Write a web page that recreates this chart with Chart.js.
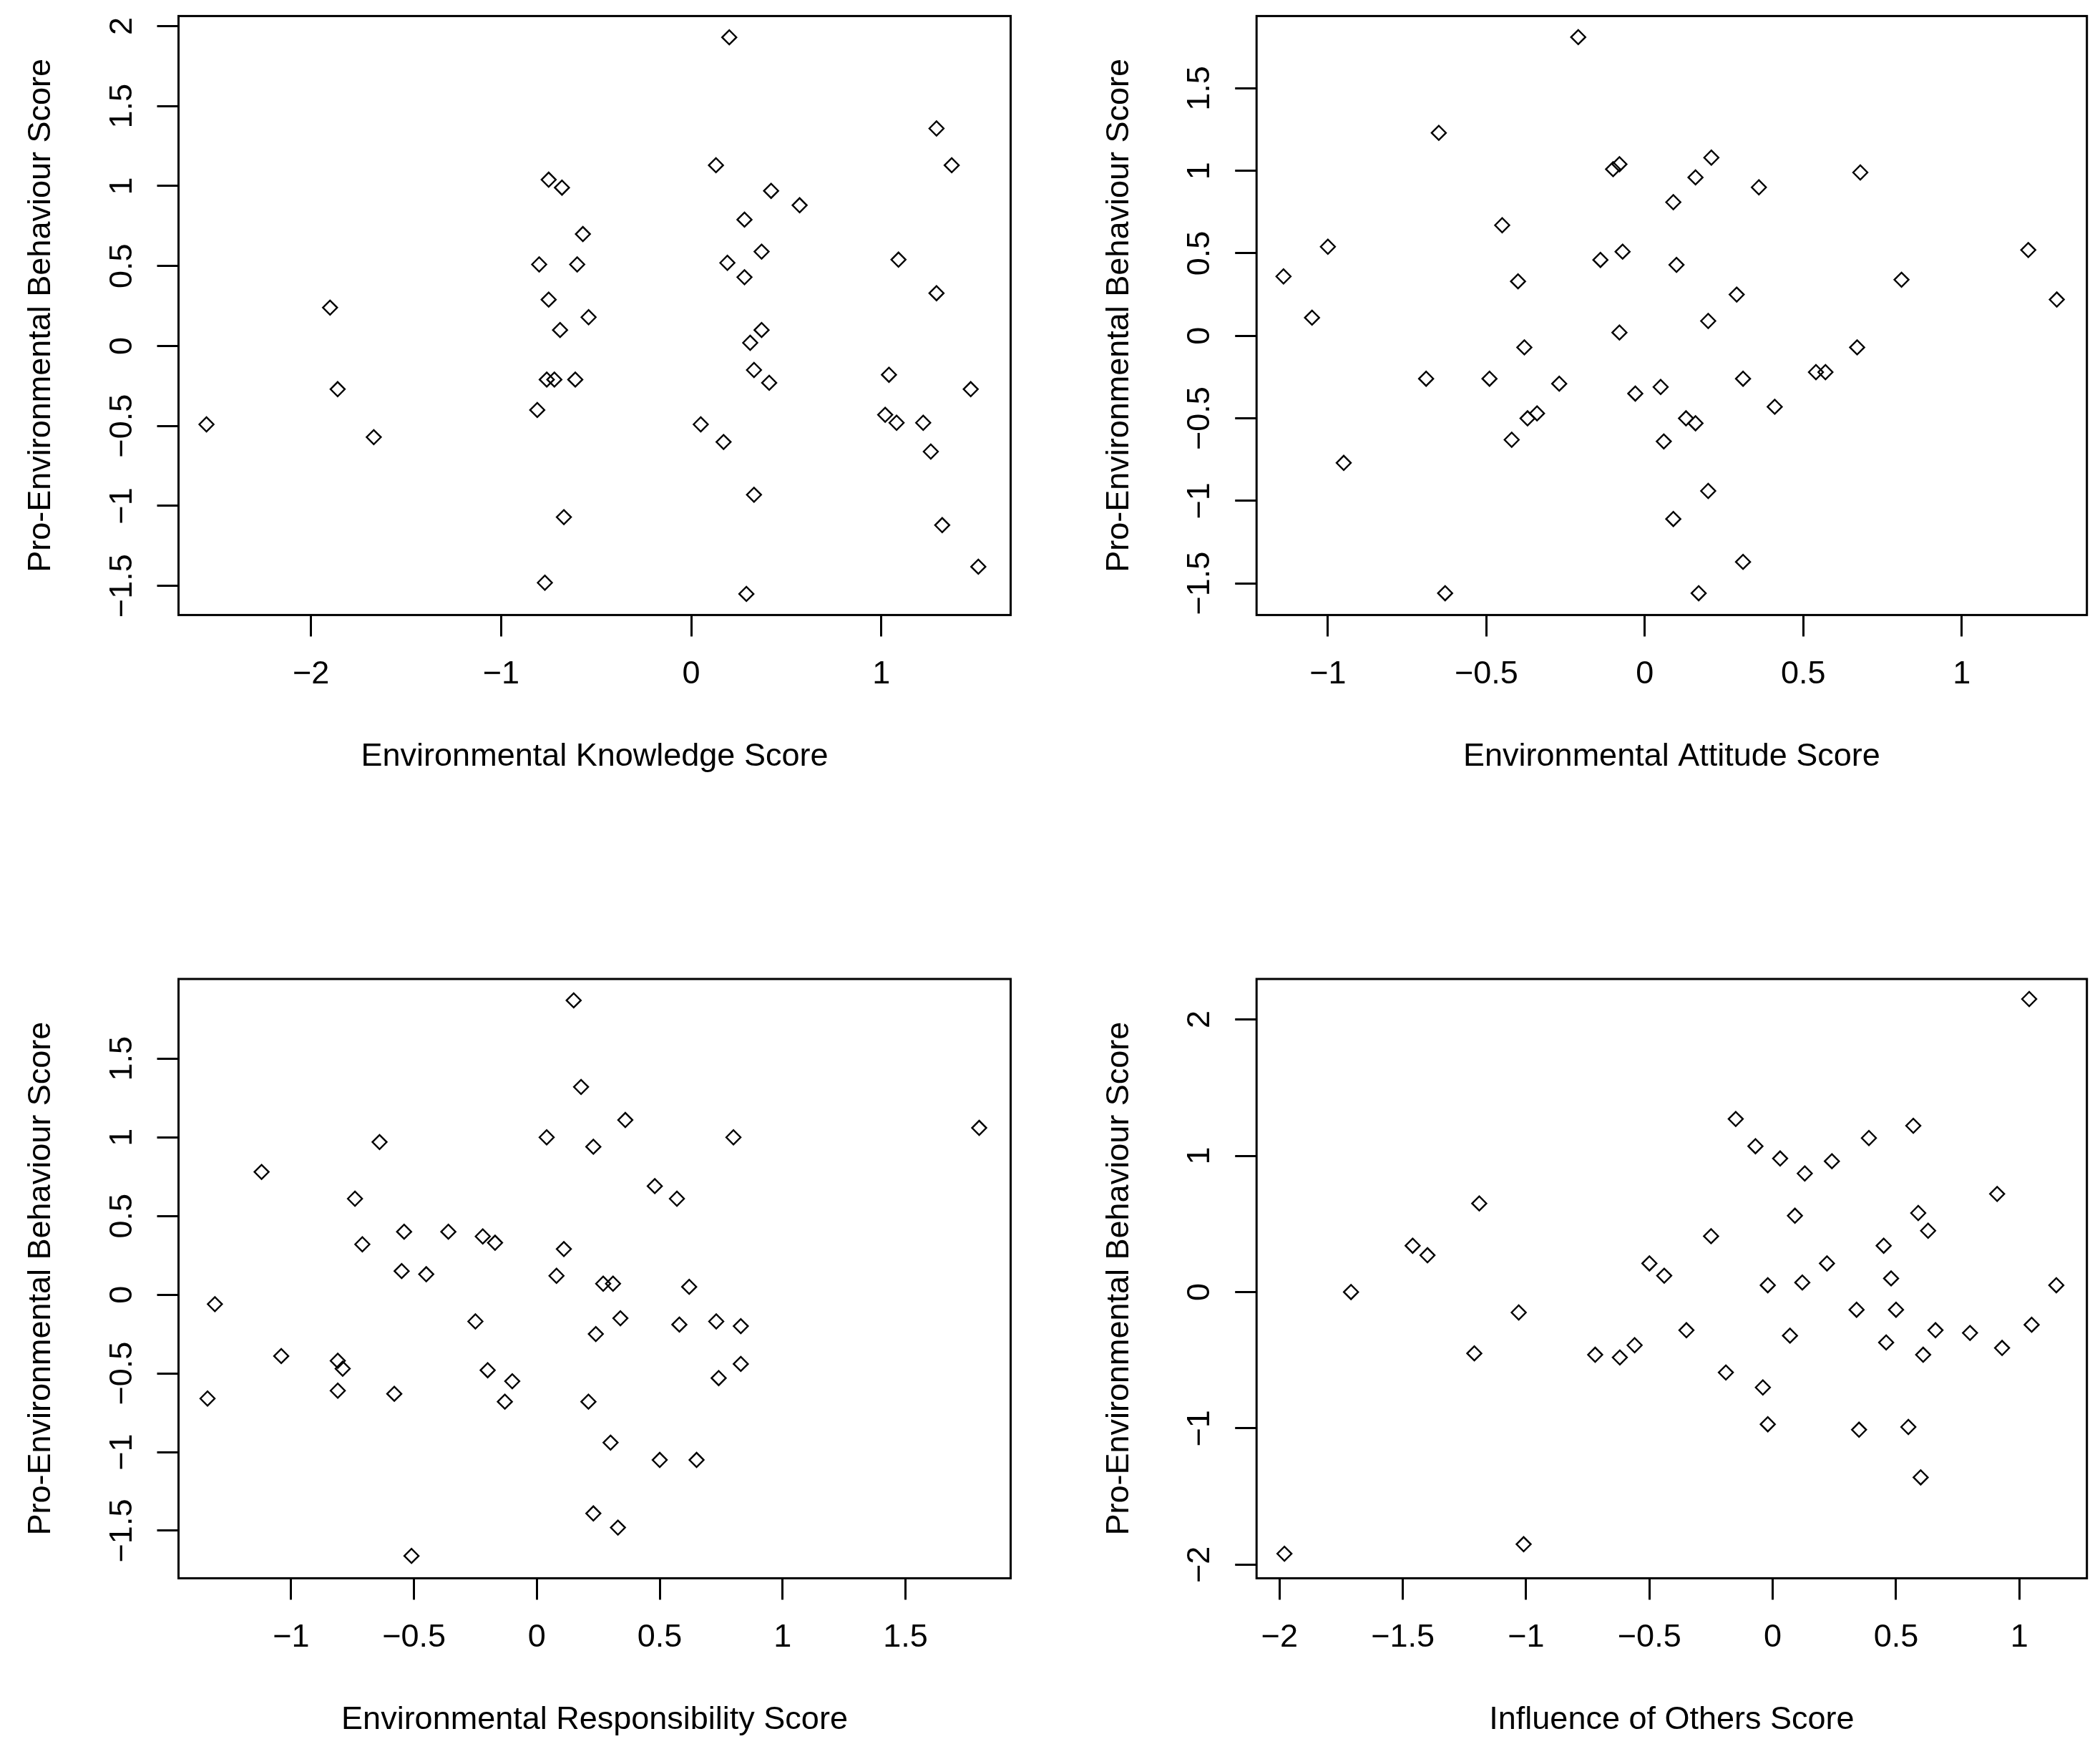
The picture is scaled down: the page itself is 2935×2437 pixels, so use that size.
<!DOCTYPE html>
<html>
<head>
<meta charset="utf-8">
<script src="https://cdn.jsdelivr.net/npm/chart.js@4.4.1/dist/chart.umd.min.js"></script>
<style>
html, body { margin: 0; padding: 0; background: #ffffff; }
body { width: 2935px; height: 2437px; position: relative; overflow: hidden; }
canvas { position: absolute; }
</style>
</head>
<body>
<canvas id="c1"></canvas>
<canvas id="c2"></canvas>
<canvas id="c3"></canvas>
<canvas id="c4"></canvas>
<script>
// ---------------- DATA ----------------
const behaviourTitle = 'Pro-Environmental Behaviour Score';

const knowledgeTitle = 'Environmental Knowledge Score';
const knowledgeX = [-2.55, -1.90, -1.86, -1.67, -0.75, -0.68, -0.80, -0.60, -0.57, -0.75, -0.54, -0.69, -0.76, -0.72, -0.61, -0.81, -0.67, -0.77, 0.20, 0.13, 0.42, 0.57, 0.28, 0.19, 0.37, 0.28, 0.37, 0.31, 0.33, 0.41, 0.05, 0.17, 0.33, 0.29, 1.29, 1.37, 1.09, 1.29, 1.04, 1.47, 1.02, 1.08, 1.22, 1.26, 1.32, 1.51];
const knowledgeY = [-0.49, 0.24, -0.27, -0.57, 1.04, 0.99, 0.51, 0.51, 0.70, 0.29, 0.18, 0.10, -0.21, -0.21, -0.21, -0.40, -1.07, -1.48, 1.93, 1.13, 0.97, 0.88, 0.79, 0.52, 0.59, 0.43, 0.10, 0.02, -0.15, -0.23, -0.49, -0.60, -0.93, -1.55, 1.36, 1.13, 0.54, 0.33, -0.18, -0.27, -0.43, -0.48, -0.48, -0.66, -1.12, -1.38];
const knowledgeXTicks = [-2, -1, 0, 1];
const knowledgeYTicks = [-1.5, -1, -0.5, 0, 0.5, 1, 1.5, 2];

const attitudeTitle = 'Environmental Attitude Score';
const attitudeX = [-0.21, -0.65, -1.14, -1.00, -1.05, -0.95, -0.45, -0.40, -0.38, -0.69, -0.49, -0.27, -0.37, -0.34, -0.42, -0.63, -0.10, -0.08, -0.14, -0.07, -0.08, -0.03, 0.09, 0.16, 0.21, 0.10, 0.36, 0.29, 0.20, 0.05, 0.06, 0.13, 0.16, 0.31, 0.41, 0.20, 0.09, 0.31, 0.17, 0.68, 0.67, 0.54, 0.57, 0.81, 1.21, 1.30];
const attitudeY = [1.81, 1.23, 0.36, 0.54, 0.11, -0.77, 0.67, 0.33, -0.07, -0.26, -0.26, -0.29, -0.50, -0.47, -0.63, -1.56, 1.01, 1.04, 0.46, 0.51, 0.02, -0.35, 0.81, 0.96, 1.08, 0.43, 0.90, 0.25, 0.09, -0.31, -0.64, -0.50, -0.53, -0.26, -0.43, -0.94, -1.11, -1.37, -1.56, 0.99, -0.07, -0.22, -0.22, 0.34, 0.52, 0.22];
const attitudeXTicks = [-1, -0.5, 0, 0.5, 1];
const attitudeYTicks = [-1.5, -1, -0.5, 0, 0.5, 1, 1.5];

const responsibilityTitle = 'Environmental Responsibility Score';
const responsibilityX = [0.15, 0.18, 0.36, 0.04, 0.23, 0.80, 1.80, 0.48, 0.57, 0.11, 0.08, 0.27, 0.31, 0.62, 0.34, 0.24, 0.58, 0.73, 0.83, 0.83, 0.74, 0.21, 0.30, 0.50, 0.65, 0.23, 0.33, -0.64, -1.12, -0.74, -0.71, -0.54, -0.36, -0.22, -0.17, -0.55, -0.45, -1.31, -0.25, -1.04, -0.81, -0.79, -0.81, -0.58, -1.34, -0.20, -0.10, -0.13, -0.51];
const responsibilityY = [1.87, 1.32, 1.11, 1.00, 0.94, 1.00, 1.06, 0.69, 0.61, 0.29, 0.12, 0.07, 0.07, 0.05, -0.15, -0.25, -0.19, -0.17, -0.20, -0.44, -0.53, -0.68, -0.94, -1.05, -1.05, -1.39, -1.48, 0.97, 0.78, 0.61, 0.32, 0.40, 0.40, 0.37, 0.33, 0.15, 0.13, -0.06, -0.17, -0.39, -0.42, -0.47, -0.61, -0.63, -0.66, -0.48, -0.55, -0.68, -1.66];
const responsibilityXTicks = [-1, -0.5, 0, 0.5, 1, 1.5];
const responsibilityYTicks = [-1.5, -1, -0.5, 0, 0.5, 1, 1.5];

const othersTitle = 'Influence of Others Score';
const othersX = [-1.98, -1.71, -1.46, -1.40, -1.19, -1.21, -1.03, -1.01, -0.72, -0.62, -0.56, -0.50, -0.44, -0.35, -0.25, -0.19, -0.15, -0.07, 0.03, 0.13, 0.24, 0.09, -0.02, 0.12, 0.22, 0.07, -0.04, -0.02, 0.39, 0.57, 0.59, 0.63, 0.45, 0.48, 0.34, 0.50, 0.66, 0.46, 0.61, 0.35, 0.55, 0.60, 0.80, 0.91, 0.93, 1.05, 1.04, 1.15];
const othersY = [-1.92, 0.00, 0.34, 0.27, 0.65, -0.45, -0.15, -1.85, -0.46, -0.48, -0.39, 0.21, 0.12, -0.28, 0.41, -0.59, 1.27, 1.07, 0.98, 0.87, 0.96, 0.56, 0.05, 0.07, 0.21, -0.32, -0.70, -0.97, 1.13, 1.22, 0.58, 0.45, 0.34, 0.10, -0.13, -0.13, -0.28, -0.37, -0.46, -1.01, -0.99, -1.36, -0.30, 0.72, -0.41, -0.24, 2.15, 0.05];
const othersXTicks = [-2, -1.5, -1, -0.5, 0, 0.5, 1];
const othersYTicks = [-2, -1, 0, 1, 2];

// ---------------- LAYOUT / STYLE ----------------
const FONT_FAMILY = '"Liberation Sans", Arial, Helvetica, sans-serif';
const FONT_SIZE = 45;
const TICK_LEN = 30;
const X_AXIS_H = 229;
const X_LABEL_PAD = 26.6;
const Y_LABEL_OFFSET = 78.3;
const Y_TITLE_PAD = 31;
const X_TITLE_PAD = 3.4;

function fmt(v) {
  const a = Math.abs(v);
  return (v < 0 ? '\u2212' : '') + String(a);
}

const boxPlugin = {
  id: 'rbox',
  afterDraw(chart) {
    const a = chart.chartArea;
    const ctx = chart.ctx;
    ctx.save();
    ctx.strokeStyle = '#000';
    ctx.lineWidth = 3;
    ctx.strokeRect(a.left, a.top, a.right - a.left, a.bottom - a.top);
    ctx.restore();
  }
};

function zeroPad(s) { s.paddingLeft = 0; s.paddingRight = 0; s.paddingTop = 0; s.paddingBottom = 0; }

function makeChart(id, pos, box, xs, ys, xTicks, yTicks, xRange, yRange, xTitle) {
  const canvas = document.getElementById(id);
  canvas.width = pos.width;
  canvas.height = pos.height;
  canvas.style.left = pos.left + 'px';
  canvas.style.top = pos.top + 'px';
  canvas.style.width = pos.width + 'px';
  canvas.style.height = pos.height + 'px';
  const ctx = canvas.getContext('2d');
  ctx.font = 'normal ' + FONT_SIZE + 'px ' + FONT_FAMILY;
  const widest = Math.max(...yTicks.map(v => ctx.measureText(fmt(v)).width));
  const yTickPad = Math.max(0, Y_LABEL_OFFSET - TICK_LEN - widest / 2);
  const font = { family: FONT_FAMILY, size: FONT_SIZE, lineHeight: 1.2 };
  const points = xs.map((x, i) => ({ x: x, y: ys[i] }));
  const grid = { display: true, drawOnChartArea: false, drawTicks: true, tickLength: TICK_LEN,
                 color: '#000', tickColor: '#000', lineWidth: 3, tickWidth: 3 };
  return new Chart(ctx, {
    type: 'scatter',
    data: { datasets: [{
      data: points,
      pointStyle: 'rectRot',
      pointRadius: 10,
      pointHoverRadius: 10,
      pointBorderColor: '#000',
      pointBackgroundColor: 'rgba(0,0,0,0)',
      pointBorderWidth: 2.4,
      borderColor: '#000',
      backgroundColor: 'rgba(0,0,0,0)'
    }]},
    options: {
      responsive: false,
      maintainAspectRatio: false,
      devicePixelRatio: 1,
      animation: false,
      events: [],
      layout: {
        autoPadding: false,
        padding: { left: 0, top: box.t, right: pos.width - box.r, bottom: pos.height - box.b - X_AXIS_H }
      },
      plugins: { legend: { display: false }, tooltip: { enabled: false } },
      scales: {
        x: {
          type: 'linear', position: 'bottom', min: xRange[0], max: xRange[1],
          afterBuildTicks: s => { s.ticks = xTicks.map(v => ({ value: v })); },
          afterFit: s => { s.height = X_AXIS_H; zeroPad(s); },
          ticks: { callback: v => fmt(v), font: font, color: '#000', padding: X_LABEL_PAD,
                   minRotation: 0, maxRotation: 0, autoSkip: false },
          grid: grid,
          border: { display: false },
          title: { display: true, text: xTitle, font: font, color: '#000', padding: { top: 0, bottom: X_TITLE_PAD } }
        },
        y: {
          type: 'linear', position: 'left', min: yRange[0], max: yRange[1],
          afterBuildTicks: s => { s.ticks = yTicks.map(v => ({ value: v })); },
          afterFit: s => { s.width = box.l; zeroPad(s); },
          ticks: { callback: v => fmt(v), font: font, color: '#000', padding: yTickPad,
                   minRotation: 90, maxRotation: 90, crossAlign: 'center', autoSkip: false },
          grid: grid,
          border: { display: false },
          title: { display: true, text: behaviourTitle, font: font, color: '#000', padding: { top: Y_TITLE_PAD, bottom: 0 } }
        }
      }
    },
    plugins: [boxPlugin]
  });
}

makeChart('c1', { left: 0, top: 0, width: 1467, height: 1218 },
  { l: 249.5, t: 22.4, r: 1412.5, b: 859.4 },
  knowledgeX, knowledgeY, knowledgeXTicks, knowledgeYTicks, [-2.697, 1.680], [-1.682, 2.063], knowledgeTitle);

makeChart('c2', { left: 1507, top: 0, width: 1428, height: 1218 },
  { l: 249.2, t: 22.4, r: 1409.7, b: 859.4 },
  attitudeX, attitudeY, attitudeXTicks, attitudeYTicks, [-1.225, 1.395], [-1.692, 1.938], attitudeTitle);

makeChart('c3', { left: 0, top: 1218, width: 1467, height: 1219 },
  { l: 249.5, t: 150, r: 1412.5, b: 987.4 },
  responsibilityX, responsibilityY, responsibilityXTicks, responsibilityYTicks, [-1.458, 1.928], [-1.802, 2.006], responsibilityTitle);

makeChart('c4', { left: 1507, top: 1218, width: 1428, height: 1219 },
  { l: 249.2, t: 150, r: 1409.7, b: 987.4 },
  othersX, othersY, othersXTicks, othersYTicks, [-2.093, 1.274], [-2.10, 2.297], othersTitle);
</script>
</body>
</html>
